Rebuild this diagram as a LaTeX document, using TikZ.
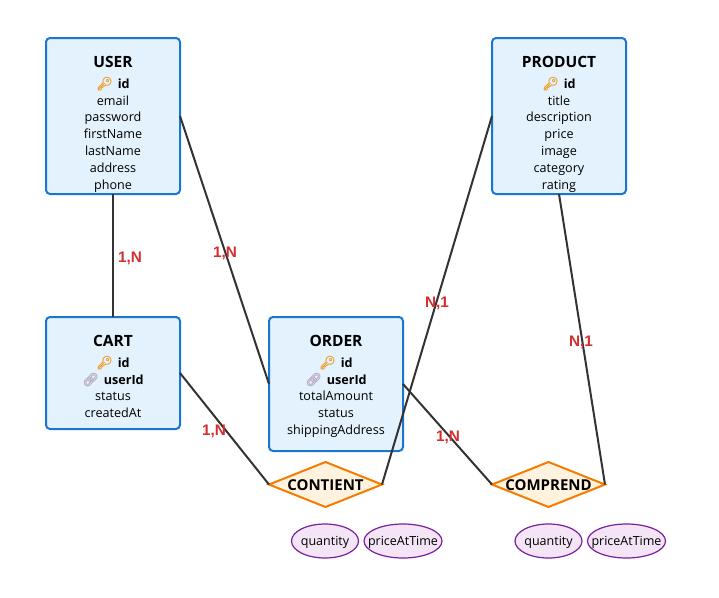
\documentclass[tikz,border=0pt]{standalone}
\usepackage{fontspec}
\setmainfont{Open Sans}
\newfontfamily\labelfont{Liberation Sans}
\newfontfamily\emojifont[FakeBold=1.5]{Noto Emoji}
\usetikzlibrary{shapes.geometric}
\definecolor{boxfill}{HTML}{E3F2FD}
\definecolor{boxline}{HTML}{1976D2}
\definecolor{relfill}{HTML}{FFF3E0}
\definecolor{relline}{HTML}{F57C00}
\definecolor{attfill}{HTML}{F3E5F5}
\definecolor{attline}{HTML}{7B1FA2}
\definecolor{conn}{HTML}{333333}
\definecolor{cardc}{HTML}{D32F2F}
\definecolor{keyc}{HTML}{F0A030}
\definecolor{linkc}{HTML}{B9AFC6}
\newcommand{\keyicon}{{\emojifont\fontsize{13}{14}\selectfont\textcolor{keyc}{🔑}}\hspace{5pt}}
\newcommand{\linkicon}{{\emojifont\fontsize{13}{14}\selectfont\textcolor{linkc}{🔗}}\hspace{5pt}}
\newcommand{\reltext}[1]{\makebox[0pt]{\raisebox{-5.8pt}[0pt][0pt]{#1}}}
\newcommand{\proptext}[1]{\makebox[0pt]{\raisebox{-4.8pt}[0pt][0pt]{#1}}}
\tikzset{
  entity/.style={draw=boxline,fill=boxfill,line width=2pt,rounded corners=4pt,minimum width=134pt,inner sep=0pt,outer sep=0pt},
  title/.style={anchor=base,inner sep=0pt,font=\fontsize{15.5}{17}\selectfont\bfseries},
  attr/.style={anchor=base,inner sep=0pt,font=\fontsize{12.6}{14}\selectfont},
  keyattr/.style={anchor=base,inner sep=0pt,font=\fontsize{12.6}{14}\selectfont\bfseries},
  rel/.style={diamond,draw=relline,fill=relfill,line width=2pt,minimum width=113pt,minimum height=45pt,inner sep=0pt,outer sep=0pt,aspect=2.5,font=\fontsize{15}{16}\selectfont\bfseries},
  prop/.style={ellipse,draw=attline,fill=attfill,line width=1.2pt,minimum height=34pt,inner sep=0pt,outer sep=0pt,font=\fontsize{12.5}{14}\selectfont},
  link/.style={draw=conn,line width=2pt},
  card/.style={inner sep=0pt,text=cardc,font=\labelfont\fontsize{15.3}{17}\selectfont\bfseries},
}
\begin{document}
\begin{tikzpicture}[x=1pt,y=-1pt]
\useasboundingbox (0,0) rectangle (719,597);
% entities
\node[entity,minimum height=156pt] (user) at (113,116) {};
\node[entity,minimum height=156pt] (product) at (559,116) {};
\node[entity,minimum height=112pt] (cart) at (113,373) {};
\node[entity,minimum height=134pt] (order) at (336,384) {};
% relations
\node[rel] (contient) at (325.5,484.5) {\reltext{CONTIENT}};
\node[rel] (comprend) at (548.5,484.5) {\reltext{COMPREND}};
% properties
\node[prop,minimum width=67pt] (q1) at (325,541) {\proptext{quantity}};
\node[prop,minimum width=78pt] (p1) at (403,541) {\proptext{priceAtTime}};
\node[prop,minimum width=67pt] (q2) at (548.5,541) {\proptext{quantity}};
\node[prop,minimum width=78pt] (p2) at (626.5,541) {\proptext{priceAtTime}};
% connectors
\draw[link] (user.south) -- (cart.north);
\draw[link] (user.east) -- (order.west);
\draw[link] (cart.east) -- (contient.west);
\draw[link] (order.east) -- (comprend.west);
\draw[link] (product.west) -- (contient.east);
\draw[link] (product.south) -- (comprend.east);
% cardinalities
\node[card] (c1) at (130,258) {1,N};
\node[card] (c2) at (225,253) {1,N};
\node[card] (c3) at (214,431) {1,N};
\node[card] (c4) at (448,437) {1,N};
\node[card] (c5) at (437,303) {N,1};
\node[card] (c6) at (581,342) {N,1};
% USER text
\node[title] (u0) at (113,67.5) {USER};
\node[keyattr] (u1) at (113,88) {\keyicon id};
\node[attr] (u2) at (113,105) {email};
\node[attr] (u3) at (113,121.8) {password};
\node[attr] (u4) at (113,138.6) {firstName};
\node[attr] (u5) at (113,155.4) {lastName};
\node[attr] (u6) at (113,172.2) {address};
\node[attr] (u7) at (113,189) {phone};
% PRODUCT text
\node[title] (r0) at (559,67.5) {PRODUCT};
\node[keyattr] (r1) at (559,88) {\keyicon id};
\node[attr] (r2) at (559,105) {title};
\node[attr] (r3) at (559,121.8) {description};
\node[attr] (r4) at (559,138.6) {price};
\node[attr] (r5) at (559,155.4) {image};
\node[attr] (r6) at (559,172.2) {category};
\node[attr] (r7) at (559,189) {rating};
% CART text
\node[title] (k0) at (113,346.5) {CART};
\node[keyattr] (k1) at (113,367) {\keyicon id};
\node[keyattr] (k2) at (113,384) {\linkicon userId};
\node[attr] (k3) at (113,400.8) {status};
\node[attr] (k4) at (113,417.6) {createdAt};
% ORDER text
\node[title] (o0) at (336,346.5) {ORDER};
\node[keyattr] (o1) at (336,367) {\keyicon id};
\node[keyattr] (o2) at (336,384) {\linkicon userId};
\node[attr] (o3) at (336,400.8) {totalAmount};
\node[attr] (o4) at (336,417.6) {status};
\node[attr] (o5) at (336,434.4) {shippingAddress};
\end{tikzpicture}
\end{document}
